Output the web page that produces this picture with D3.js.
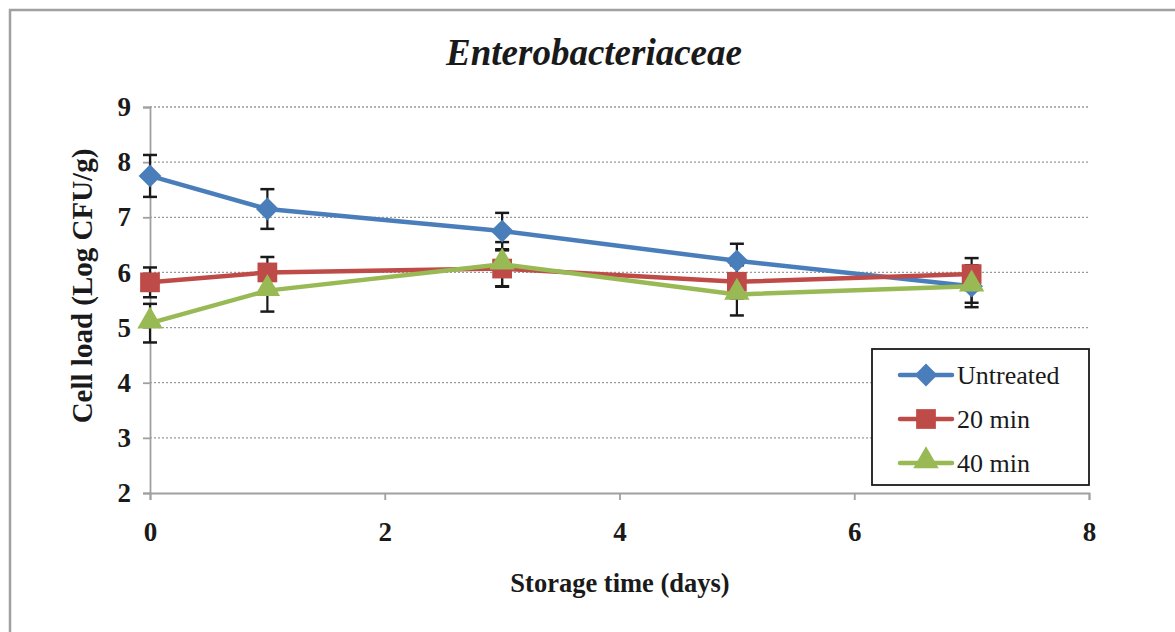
<!DOCTYPE html>
<html>
<head>
<meta charset="utf-8">
<script src="https://cdn.jsdelivr.net/npm/d3@7"></script>
<style>
  html, body { margin: 0; padding: 0; background: #fff; }
  svg { display: block; }
  svg text { font-family: "Liberation Serif", "Times New Roman", serif; }
</style>
</head>
<body>
<svg id="chart" width="1175" height="632"></svg>
<script>
// Storage days sampled
const days = [0, 1, 3, 5, 7];
// Mean cell loads (Log CFU/g) per treatment
const untreated = [7.75, 7.15, 6.75, 6.21, 5.75];
const min20 = [5.82, 6.00, 6.07, 5.83, 5.97];
const min40 = [5.08, 5.67, 6.15, 5.60, 5.75];
// Standard deviations
const untreatedErr = [0.38, 0.36, 0.33, 0.31, 0.30];
const min20Err = [0.27, 0.28, 0.33, 0.30, 0.29];
const min40Err = [0.35, 0.38, 0.40, 0.38, 0.38];
// Axis ticks
const xTicks = [0, 2, 4, 6, 8];
const yTicks = [2, 3, 4, 5, 6, 7, 8, 9];
const seriesNames = ["Untreated", "20 min", "40 min"];

const FONT = "Liberation Serif";
const series = [
  { name: seriesNames[0], values: untreated, err: untreatedErr, color: "#4a7ebb", shape: "diamond" },
  { name: seriesNames[1], values: min20, err: min20Err, color: "#be4b48", shape: "square" },
  { name: seriesNames[2], values: min40, err: min40Err, color: "#98b954", shape: "triangle" }
];

const svg = d3.select("#chart");

// outer frame
svg.append("rect").attr("x", 10).attr("y", 10).attr("width", 1200).attr("height", 700)
  .attr("fill", "none").attr("stroke", "#a0a0a0").attr("stroke-width", 2.5);

const x = d3.scaleLinear().domain([0, 8]).range([150, 1089]);
const y = d3.scaleLinear().domain([2, 9]).range([493, 107]);

// gridlines
svg.append("g").selectAll("line").data(yTicks.filter(d => d > 2)).join("line")
  .attr("x1", x(0)).attr("x2", x(8)).attr("y1", d => y(d)).attr("y2", d => y(d))
  .attr("stroke", "#9a9a9a").attr("stroke-width", 1.3).attr("stroke-dasharray", "2,2");

// y axis
const yAxis = d3.axisLeft(y).tickValues(yTicks).tickSize(7).tickPadding(12).tickFormat(d3.format("d"));
const gy = svg.append("g").attr("transform", `translate(${x(0)},0)`).call(yAxis)
  .attr("font-family", FONT);
gy.select(".domain").attr("stroke", "#a0a0a0").attr("stroke-width", 1.8);
gy.selectAll(".tick line").attr("stroke", "#a0a0a0").attr("stroke-width", 1.8);
gy.selectAll(".tick text").attr("font-family", FONT).attr("font-size", 27)
  .attr("font-weight", "bold").attr("fill", "#1a1a1a");

// x axis
const xAxis = d3.axisBottom(x).tickValues(xTicks).tickSize(7).tickPadding(22).tickFormat(d3.format("d"));
const gx = svg.append("g").attr("transform", `translate(0,${y(2)})`).call(xAxis)
  .attr("font-family", FONT);
gx.select(".domain").attr("stroke", "#a0a0a0").attr("stroke-width", 1.8);
gx.selectAll(".tick line").attr("stroke", "#a0a0a0").attr("stroke-width", 1.8);
gx.selectAll(".tick text").attr("font-family", FONT).attr("font-size", 27)
  .attr("font-weight", "bold").attr("fill", "#1a1a1a");

// title
svg.append("text").attr("x", 594).attr("y", 65).attr("text-anchor", "middle").attr("font-family", FONT)
  .attr("font-size", 37).attr("font-weight", "bold").attr("font-style", "italic").attr("fill", "#1a1a1a")
  .text("Enterobacteriaceae");

// axis titles
svg.append("text").attr("x", 620).attr("y", 592).attr("text-anchor", "middle").attr("font-family", FONT)
  .attr("font-size", 26.5).attr("font-weight", "bold").attr("fill", "#1a1a1a")
  .text("Storage time (days)");
svg.append("text").attr("transform", "translate(92,286) rotate(-90)").attr("text-anchor", "middle")
  .attr("font-family", FONT).attr("font-size", 29).attr("font-weight", "bold").attr("fill", "#1a1a1a")
  .text("Cell load (Log CFU/g)");

// error bars
const capW = 7;
series.forEach(s => {
  const g = svg.append("g");
  days.forEach((d, i) => {
    const cx = x(d), top = y(s.values[i] + s.err[i]), bot = y(s.values[i] - s.err[i]);
    g.append("line").attr("x1", cx).attr("x2", cx).attr("y1", top).attr("y2", bot)
      .attr("stroke", "#1a1a1a").attr("stroke-width", 2.2);
    [top, bot].forEach(yy => g.append("line").attr("x1", cx - capW).attr("x2", cx + capW)
      .attr("y1", yy).attr("y2", yy).attr("stroke", "#1a1a1a").attr("stroke-width", 2.5));
  });
});

const symbolFor = shape => {
  if (shape === "diamond") return d3.symbol().type(d3.symbolSquare).size(260);
  if (shape === "square") return d3.symbol().type(d3.symbolSquare).size(390);
  return d3.symbol().type(d3.symbolTriangle).size(280);
};
const markTransform = (shape, cx, cy) =>
  `translate(${cx},${cy + (shape === "triangle" ? -2 : 0)})` + (shape === "diamond" ? " rotate(45)" : "");

const line = d3.line().x((d, i) => x(days[i])).y(d => y(d));

series.forEach(s => {
  const g = svg.append("g");
  g.append("path").datum(s.values).attr("d", line).attr("fill", "none")
    .attr("stroke", s.color).attr("stroke-width", 4.5).attr("stroke-linejoin", "round");
  g.selectAll("path.m").data(s.values).join("path").attr("class", "m")
    .attr("d", symbolFor(s.shape))
    .attr("transform", (d, i) => markTransform(s.shape, x(days[i]), y(d)))
    .attr("fill", s.color);
});

// legend
const lg = svg.append("g");
lg.append("rect").attr("x", 872).attr("y", 349).attr("width", 217).attr("height", 136)
  .attr("fill", "#fff").attr("stroke", "#1a1a1a").attr("stroke-width", 1.8);
series.forEach((s, i) => {
  const yy = 375 + i * 44;
  lg.append("line").attr("x1", 900).attr("x2", 952).attr("y1", yy).attr("y2", yy)
    .attr("stroke", s.color).attr("stroke-width", 4.5).attr("stroke-linecap", "round");
  lg.append("path").attr("d", symbolFor(s.shape))
    .attr("transform", markTransform(s.shape, 926, yy))
    .attr("fill", s.color);
  lg.append("text").attr("x", 957).attr("y", yy + 9).attr("font-family", FONT)
    .attr("font-size", 26).attr("fill", "#1a1a1a").text(s.name);
});
</script>
</body>
</html>
